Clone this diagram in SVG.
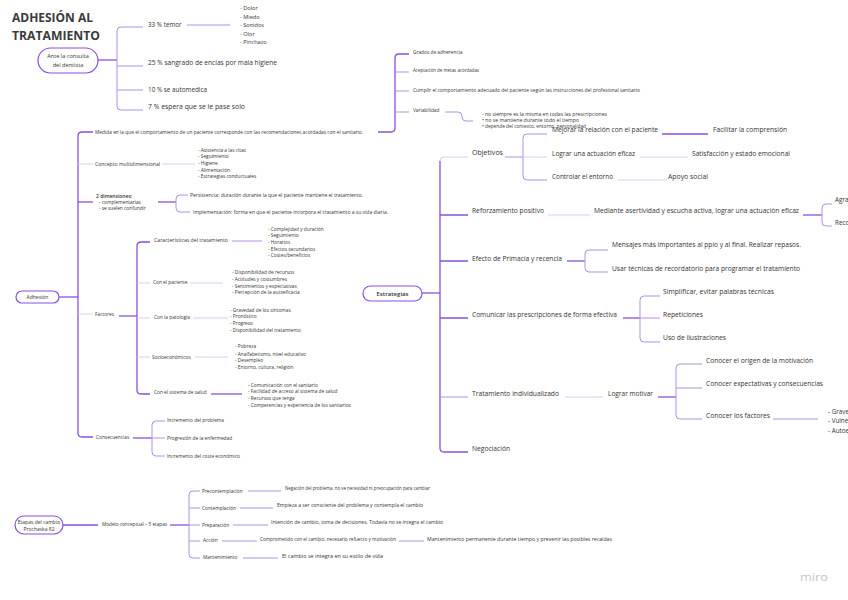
<svg xmlns="http://www.w3.org/2000/svg" width="848" height="600" viewBox="0 0 848 600">
<style>
.f{font-family:"Open Sans","Liberation Sans",Arial,sans-serif;fill:#333}
.a{font-size:4.8px}
.b{font-size:6.3px}
.c{font-size:5.6px}
.ttl{font-size:13px;font-weight:700;fill:#3a3a3a}
.l1{fill:none;stroke:#8a50dd;stroke-width:1.3}
.l2{fill:none;stroke:#b190ea;stroke-width:1}
.l3{fill:none;stroke:#dacbf6;stroke-width:1}
.pill{fill:#fff;stroke:#8a50dd;stroke-width:1.2}
.m{text-anchor:middle}
</style>
<rect width="848" height="600" fill="#fff"/>
<g id="title">
<text class="f ttl" x="12" y="22" textLength="81" lengthAdjust="spacingAndGlyphs">ADHESIÓN AL</text>
<text class="f ttl" x="12" y="39.5" textLength="88" lengthAdjust="spacingAndGlyphs">TRATAMIENTO</text>
</g>
<g id="connectors">
<!-- Ante la consulta -->
<path class="l1" d="M98 60 H117"/>
<path class="l2" d="M143 27 H121 Q117 27 117 31 V106 Q117 110 121 110 H143 M117 66 H143 M117 90 H143"/>
<path class="l2" d="M187 25 H230"/>
<!-- Medida -->
<path class="l1" d="M409 54 H399 Q395 54 395 58 V128 Q395 132 391 132 H378"/>
<path class="l2" d="M395 72 H409 M395 91 H409 M395 112 H409"/>
<path class="l2" d="M445 112 H458 Q462 112 462 116 V117 Q462 121 466 121 H473"/>
<!-- Adhesión -->
<path class="l1" d="M59 297 H78"/>
<path class="l1" d="M93 132 H82 Q78 132 78 136 V433 Q78 437 82 437 H93"/>
<path class="l3" d="M78 164 H93 M78 314 H93"/>
<path class="l1" d="M78 202 H93"/>
<path class="l3" d="M162 164 H195"/>
<path class="l1" d="M158 202 H176"/>
<path class="l2" d="M188 195 H180 Q176 195 176 199 V208 Q176 212 180 212 H190"/>
<!-- Factores -->
<path class="l1" d="M119 316 H137"/>
<path class="l1" d="M150 242 H141 Q137 242 137 246 V390 Q137 394 141 394 H150"/>
<path class="l3" d="M137 283 H150 M137 318 H150 M137 357 H150"/>
<path class="l2" d="M232 241 H262"/>
<path class="l3" d="M190 283 H223 M193 318 H228 M195 357 H228"/>
<path class="l1" d="M211 394 H242"/>
<!-- Consecuencias -->
<path class="l1" d="M133 438 H152"/>
<path class="l2" d="M165 421 H156 Q152 421 152 425 V452 Q152 456 156 456 H165 M152 438 H165"/>
<!-- Estrategias -->
<path class="l1" d="M422 293 H440"/>
<path class="l3" d="M468 157 H444 Q440 157 440 161"/>
<path class="l1" d="M440 161 V448 Q440 452 444 452 H468 M440 215 H468 M440 261 H468 M440 318 H468"/>
<path class="l2" d="M440 397 H468"/>
<!-- Objetivos -->
<path class="l2" d="M505 157 H523"/>
<path class="l2" d="M547 134 H527 Q523 134 523 138 V176 Q523 180 527 180 H547"/>
<path class="l3" d="M523 157 H547"/>
<path class="l1" d="M662 134 H708"/>
<path class="l3" d="M640 157 H688 M618 180 H667"/>
<!-- Reforzamiento -->
<path class="l3" d="M548 215 H590"/>
<path class="l1" d="M803 215 H822"/>
<path class="l2" d="M832 204 H826 Q822 204 822 208 V222 Q822 226 826 226 H832"/>
<!-- Efecto -->
<path class="l1" d="M567 261 H585"/>
<path class="l2" d="M608 250 H589 Q585 250 585 254 V268 Q585 272 589 272 H608"/>
<!-- Comunicar -->
<path class="l1" d="M623 318 H640"/>
<path class="l2" d="M660 296 H644 Q640 296 640 300 V338 Q640 342 644 342 H660 M640 318 H660"/>
<!-- Tratamiento -->
<path class="l3" d="M565 397 H603"/>
<path class="l1" d="M658 397 H676"/>
<path class="l2" d="M702 364 H680 Q676 364 676 368 V415 Q676 419 680 419 H702 M676 388 H702"/>
<path class="l2" d="M773 419 H818"/>
<!-- Etapas -->
<path class="l1" d="M63 525 H98"/>
<path class="l1" d="M170 525 H189"/>
<path class="l2" d="M200 491 H193 Q189 491 189 495 V554 Q189 558 193 558 H200 M189 508 H200 M189 525 H200 M189 541 H200"/>
<path class="l2" d="M248 491 H281 M240 508 H273 M233 525 H268 M222 541 H257 M399 541 H424 M243 558 H278"/>
</g>

<g id="n-ante">
<rect class="pill" x="38" y="48" width="60" height="25" rx="12.5"/>
<text class="f c m" x="68" y="58">Ante la consulta</text>
<text class="f c m" x="68" y="67">del dentista</text>
</g>
<g id="n-temor">
<text class="f b" x="148" y="27">33 % temor</text>
<text class="f c" x="240" y="10.3">-  Dolor</text>
<text class="f c" x="240" y="18.6">-  Miedo</text>
<text class="f c" x="240" y="27">-  Sonidos</text>
<text class="f c" x="240" y="35.5">-  Olor</text>
<text class="f c" x="240" y="43.8">-  Pinchazo</text>
</g>
<g id="n-sangrado"><text class="f b" x="148" y="64.5" textLength="129" lengthAdjust="spacingAndGlyphs">25 % sangrado de encías por mala higiene</text></g>
<g id="n-automedica"><text class="f b" x="148" y="92" textLength="59" lengthAdjust="spacingAndGlyphs">10 % se automedica</text></g>
<g id="n-espera"><text class="f b" x="148" y="109" textLength="97" lengthAdjust="spacingAndGlyphs">7 % espera que se le pase solo</text></g>

<g id="n-grados"><text class="f a" x="413" y="54">Grados de adherencia</text></g>
<g id="n-aceptacion"><text class="f a" x="413" y="71.5" textLength="66" lengthAdjust="spacingAndGlyphs">Aceptación de metas acordadas</text></g>
<g id="n-cumplir"><text class="f a" x="413" y="91.5" textLength="227" lengthAdjust="spacingAndGlyphs">Cumplir el comportamiento adecuado del paciente según las instrucciones del profesional sanitario</text></g>
<g id="n-variabilidad">
<text class="f a" x="413" y="111.5">Variabilidad</text>
<text class="f a" x="482" y="115.5" textLength="125" lengthAdjust="spacingAndGlyphs">-  no siempre es la misma en todas las prescripciones</text>
<text class="f a" x="482" y="122" textLength="97" lengthAdjust="spacingAndGlyphs">•  no se mantiene durante todo el tiempo</text>
<text class="f a" x="482" y="128" textLength="104" lengthAdjust="spacingAndGlyphs">•  depende del contexto, entorno, personalidad</text>
</g>

<g id="n-adhesion">
<rect class="pill" x="16" y="291" width="43" height="12" rx="6"/>
<text class="f m" x="37.5" y="298.8" font-size="5">Adhesión</text>
</g>
<g id="n-medida"><text class="f a" x="95" y="133.5" textLength="268" lengthAdjust="spacingAndGlyphs">Medida en la que el comportamiento de un paciente corresponde con las recomendaciones acordadas con el sanitario.</text></g>
<g id="n-concepto">
<text class="f a" x="95" y="165.5" textLength="65" lengthAdjust="spacingAndGlyphs">Concepto multidimensional</text>
<text class="f a" x="198" y="151.5">-  Asistencia a las citas</text>
<text class="f a" x="198" y="158.2">-  Seguimiento</text>
<text class="f a" x="198" y="164.8">-  Higiene</text>
<text class="f a" x="198" y="171.5">-  Alimentación</text>
<text class="f a" x="198" y="178">-  Estrategias conductuales</text>
</g>
<g id="n-dimensiones">
<text class="f" x="96" y="197.5" font-size="5" font-weight="600">2 dimensiones:</text>
<text class="f a" x="99" y="203.8">-  complementarias</text>
<text class="f a" x="99" y="210">-  se suelen confundir</text>
</g>
<g id="n-persistencia"><text class="f a" x="190" y="196.5" textLength="173" lengthAdjust="spacingAndGlyphs">Persistencia: duración durante la que el paciente mantiene el tratamiento.</text></g>
<g id="n-implementacion"><text class="f a" x="193" y="213.5" textLength="195" lengthAdjust="spacingAndGlyphs">Implementación: forma en que el paciente incorpora el tratamiento a su vida diaria.</text></g>

<g id="n-factores"><text class="f a" x="95" y="315.5">Factores</text></g>
<g id="n-caracteristicas">
<text class="f a" x="154" y="241.5" textLength="74" lengthAdjust="spacingAndGlyphs">Características del tratamiento</text>
<text class="f a" x="268" y="231">-  Complejidad y duración</text>
<text class="f a" x="268" y="237.3">-  Seguimiento</text>
<text class="f a" x="268" y="243.5">-  Horarios</text>
<text class="f a" x="268" y="250.5">-  Efectos secundarios</text>
<text class="f a" x="268" y="257">-  Costes/beneficios</text>
</g>
<g id="n-paciente">
<text class="f a" x="153" y="284">Con el paciente</text>
<text class="f a" x="232" y="274">-  Disponibilidad de recursos</text>
<text class="f a" x="232" y="280.5">-  Actitudes y costumbres</text>
<text class="f a" x="232" y="287.5">-  Sentimientos y expectativas</text>
<text class="f a" x="232" y="294">-  Percepción de la autoeficacia</text>
</g>
<g id="n-patologia">
<text class="f a" x="154" y="319">Con la patología</text>
<text class="f a" x="230" y="311.5">-  Gravedad de los síntomas</text>
<text class="f a" x="230" y="318">-  Pronóstico</text>
<text class="f a" x="230" y="324.8">-  Progreso</text>
<text class="f a" x="230" y="331.5">-  Disponibilidad del tratamiento</text>
</g>
<g id="n-socio">
<text class="f a" x="152" y="358.5">Socioeconómicos</text>
<text class="f a" x="235" y="348">-  Pobreza</text>
<text class="f a" x="235" y="355.5">-  Analfabetismo, nivel educativo</text>
<text class="f a" x="235" y="362">-  Desempleo</text>
<text class="f a" x="235" y="368.8">-  Entorno, cultura, religión</text>
</g>
<g id="n-sistema">
<text class="f a" x="154" y="393.5">Con el sistema de salud</text>
<text class="f a" x="248" y="386.5">-  Comunicación con el sanitario</text>
<text class="f a" x="248" y="393">-  Facilidad de acceso al sistema de salud</text>
<text class="f a" x="248" y="400">-  Recursos que tenga</text>
<text class="f a" x="248" y="407">-  Competencias y experiencia de los sanitarios</text>
</g>
<g id="n-consecuencias"><text class="f a" x="96" y="439">Consecuencias</text></g>
<g id="n-incremento"><text class="f a" x="167" y="422">Incremento del problema</text></g>
<g id="n-progresion"><text class="f a" x="167" y="439.5">Progresión de la enfermedad</text></g>
<g id="n-coste"><text class="f a" x="167" y="457.5">Incremento del coste económico</text></g>

<g id="n-estrategias">
<rect class="pill" x="363" y="286" width="59" height="15" rx="7.5"/>
<text class="f m" x="392.5" y="295.6" font-size="6" font-weight="600">Estrategias</text>
</g>
<g id="n-objetivos"><text class="f b" x="472" y="155" textLength="31" lengthAdjust="spacingAndGlyphs">Objetivos</text></g>
<g id="n-mejorar"><text class="f b" x="552" y="132.3" textLength="106" lengthAdjust="spacingAndGlyphs">Mejorar la relación con el paciente</text></g>
<g id="n-facilitar"><text class="f b" x="713" y="132.3" textLength="74" lengthAdjust="spacingAndGlyphs">Facilitar la comprensión</text></g>
<g id="n-lograr"><text class="f b" x="552" y="155.5" textLength="83" lengthAdjust="spacingAndGlyphs">Lograr una actuación eficaz</text></g>
<g id="n-satisfaccion"><text class="f b" x="692" y="155.5" textLength="98" lengthAdjust="spacingAndGlyphs">Satisfacción y estado emocional</text></g>
<g id="n-controlar"><text class="f b" x="552" y="178.7" textLength="61" lengthAdjust="spacingAndGlyphs">Controlar el entorno</text></g>
<g id="n-apoyo"><text class="f b" x="668" y="178.7" textLength="40" lengthAdjust="spacingAndGlyphs">Apoyo social</text></g>
<g id="n-reforzamiento"><text class="f b" x="472" y="213" textLength="72" lengthAdjust="spacingAndGlyphs">Reforzamiento positivo</text></g>
<g id="n-mediante"><text class="f b" x="594" y="213" textLength="205" lengthAdjust="spacingAndGlyphs">Mediante asertividad y escucha activa, lograr una actuación eficaz</text></g>
<g id="n-agradecer"><text class="f b" x="835" y="202">Agradecer</text></g>
<g id="n-recompensar"><text class="f b" x="835" y="224.5">Recompensar</text></g>
<g id="n-efecto"><text class="f b" x="472" y="260.5" textLength="90" lengthAdjust="spacingAndGlyphs">Efecto de Primacía y recencia</text></g>
<g id="n-mensajes"><text class="f b" x="612" y="247" textLength="189" lengthAdjust="spacingAndGlyphs">Mensajes más importantes al ppio y al final. Realizar repasos.</text></g>
<g id="n-usar"><text class="f b" x="612" y="271" textLength="188" lengthAdjust="spacingAndGlyphs">Usar técnicas de recordatorio para programar el tratamiento</text></g>
<g id="n-comunicar"><text class="f b" x="472" y="317" textLength="145" lengthAdjust="spacingAndGlyphs">Comunicar las prescripciones de forma efectiva</text></g>
<g id="n-simplificar"><text class="f b" x="663" y="294" textLength="111" lengthAdjust="spacingAndGlyphs">Simplificar, evitar palabras técnicas</text></g>
<g id="n-repeticiones"><text class="f b" x="663" y="317" textLength="40" lengthAdjust="spacingAndGlyphs">Repeticiones</text></g>
<g id="n-ilustraciones"><text class="f b" x="663" y="340" textLength="63" lengthAdjust="spacingAndGlyphs">Uso de ilustraciones</text></g>
<g id="n-tratamiento"><text class="f b" x="472" y="395.5" textLength="87" lengthAdjust="spacingAndGlyphs">Tratamiento individualizado</text></g>
<g id="n-motivar"><text class="f b" x="608" y="395.5" textLength="45" lengthAdjust="spacingAndGlyphs">Lograr motivar</text></g>
<g id="n-origen"><text class="f b" x="706" y="363" textLength="107" lengthAdjust="spacingAndGlyphs">Conocer el origen de la motivación</text></g>
<g id="n-expectativas"><text class="f b" x="706" y="386" textLength="117" lengthAdjust="spacingAndGlyphs">Conocer expectativas y consecuencias</text></g>
<g id="n-conocer-factores">
<text class="f b" x="706" y="418" textLength="64" lengthAdjust="spacingAndGlyphs">Conocer los factores</text>
<text class="f b" x="828" y="413.5">-  Gravedad</text>
<text class="f b" x="828" y="423">-  Vulnerabilidad</text>
<text class="f b" x="828" y="433">-  Autoeficacia</text>
</g>
<g id="n-negociacion"><text class="f b" x="472" y="450.5" textLength="38" lengthAdjust="spacingAndGlyphs">Negociación</text></g>

<g id="n-etapas">
<rect class="pill" x="15" y="516" width="48" height="18" rx="9"/>
<text class="f m" x="39" y="523.5" font-size="5">Etapas del cambio</text>
<text class="f m" x="39" y="531" font-size="5">Prochaska 82</text>
</g>
<g id="n-modelo"><text class="f" x="102" y="526" font-size="5" textLength="65" lengthAdjust="spacingAndGlyphs">Modelo conceptual – 5 etapas</text></g>
<g id="n-precontemplacion">
<text class="f a" x="202" y="492.5">Precontemplación</text>
<text class="f a" x="285" y="489.5" textLength="145" lengthAdjust="spacingAndGlyphs">Negación del problema, no ve necesidad ni preocupación para cambiar</text>
</g>
<g id="n-contemplacion">
<text class="f a" x="202" y="510">Contemplación</text>
<text class="f a" x="277" y="506.5" textLength="146" lengthAdjust="spacingAndGlyphs">Empieza a ser consciente del problema y contempla el cambio</text>
</g>
<g id="n-preparacion">
<text class="f a" x="202" y="526.5">Preparación</text>
<text class="f a" x="271" y="523.5" textLength="172" lengthAdjust="spacingAndGlyphs">Intención de cambio, toma de decisiones. Todavía no se integra el cambio</text>
</g>
<g id="n-accion">
<text class="f a" x="203" y="542">Acción</text>
<text class="f a" x="260" y="541" textLength="136" lengthAdjust="spacingAndGlyphs">Comprometido con el cambio, necesario refuerzo y motivación</text>
<text class="f a" x="427" y="541" textLength="185" lengthAdjust="spacingAndGlyphs">Mantenimiento permanente durante tiempo y prevenir las posibles recaídas</text>
</g>
<g id="n-mantenimiento">
<text class="f a" x="203" y="559">Mantenimiento</text>
<text class="f a" x="282" y="558" textLength="101" lengthAdjust="spacingAndGlyphs">El cambio se integra en su estilo de vida</text>
</g>
<g id="logo"><text x="800" y="581" font-family="'Open Sans','Liberation Sans',sans-serif" font-size="10" fill="#c4c4c4" textLength="28" lengthAdjust="spacingAndGlyphs">miro</text></g>
</svg>
